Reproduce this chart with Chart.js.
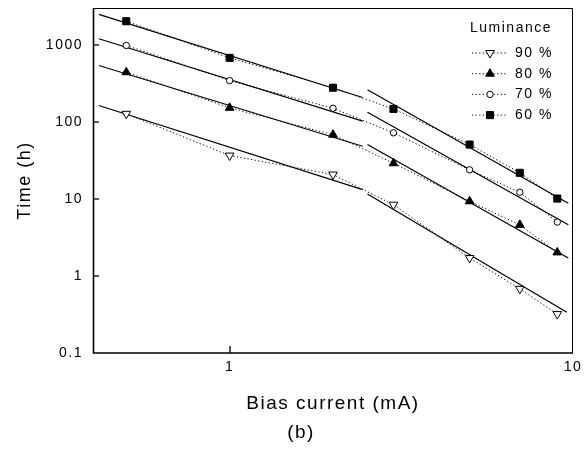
<!DOCTYPE html>
<html><head><meta charset="utf-8">
<script src="https://cdn.jsdelivr.net/npm/chart.js@4.4.1/dist/chart.umd.min.js"></script>
<style>html,body{margin:0;padding:0;background:#fff;}#wrap{width:585px;height:457px;position:relative;}</style>
</head><body><div id="wrap"><canvas id="c"></canvas></div>
<script>
// ---- data ----
const currents = [0.5, 1, 2, 3, 5, 7, 9];
const lum90 = [127, 36.5, 20.7, 8.4, 1.71, 0.68, 0.32];
const lum80 = [440, 152, 68, 29, 9.3, 4.6, 2.02];
const lum70 = [980, 343, 150, 72, 23.8, 12.2, 5.0];
const lum60 = [2020, 676, 277, 147, 50.7, 21.8, 10.1];
const seriesLabels = ['90 %', '80 %', '70 %', '60 %'];
const legendTitle = 'Luminance';
const xTickLabels = [1, 10];
const yTickLabels = [0.1, 1, 10, 100, 1000];
// fitted straight lines (two segments per series), endpoints
const fitLowX = [0.416, 2.44];
const fitHighX = [2.52, 9.69];
const fitHighX90 = [2.52, 9.59];
const fit90Low = [163, 13.2], fit90High = [11.6, 0.337];
const fit80Low = [538, 48.2], fit80High = [50.7, 1.71];
const fit70Low = [1197, 102], fit70High = [133, 4.63];
const fit60Low = [2480, 207], fit60High = [261, 8.77];

const FONT = '"Liberation Sans", Arial, Helvetica, sans-serif';
const pts = (xs, ys) => xs.map((x, i) => ({x: x, y: ys[i]}));

const markerStyles = [
  {pointStyle: 'triangle', rotation: 180, radius: 5, fill: '#fff'},
  {pointStyle: 'triangle', rotation: 0, radius: 5, fill: '#000'},
  {pointStyle: 'circle', rotation: 0, radius: 3.2, fill: '#fff'},
  {pointStyle: 'rect', rotation: 0, radius: 5, fill: '#000'}
];
const seriesValues = [lum90, lum80, lum70, lum60];

const datasets = [];
seriesValues.forEach((vals, i) => {
  const m = markerStyles[i];
  datasets.push({
    label: seriesLabels[i],
    data: pts(currents, vals),
    showLine: true,
    borderColor: '#000', borderWidth: 1, borderDash: [1.2, 2.4],
    pointStyle: m.pointStyle, pointRotation: m.rotation, pointRadius: m.radius,
    pointBackgroundColor: m.fill, pointBorderColor: '#000', pointBorderWidth: 1,
    order: 1
  });
});
const fits = [
  [fitLowX, fit90Low], [fitHighX90, fit90High],
  [fitLowX, fit80Low], [fitHighX, fit80High],
  [fitLowX, fit70Low], [fitHighX, fit70High],
  [fitLowX, fit60Low], [fitHighX, fit60High]
];
fits.forEach(([xs, ys]) => {
  datasets.push({
    label: 'fit', data: pts(xs, ys), showLine: true,
    borderColor: '#000', borderWidth: 1.2, pointRadius: 0, order: 2
  });
});

const isMajor = v => Math.abs(Math.log10(v) - Math.round(Math.log10(v))) < 1e-6;
const inList = (list, v) => list.some(t => Math.abs(t - v) < 1e-9 * Math.max(1, t));

const spacing = {
  id: 'spacing',
  beforeLayout(chart) { chart.ctx.letterSpacing = '1.5px'; },
  beforeDraw(chart) { chart.ctx.letterSpacing = '1.5px'; },
  afterLayout(chart) {
    const t = chart.titleBlock, a = chart.chartArea;
    if (t) {
      const w = t.right - t.left;
      const c = (a.left + a.right) / 2 - 32;
      t.left = c - w / 2; t.right = c + w / 2;
    }
  }
};

const frameTicks = {
  id: 'frameTicks',
  afterDraw(chart) {
    const {ctx, chartArea: a, scales: {x, y}} = chart;
    ctx.save();
    ctx.setLineDash([]);
    ctx.strokeStyle = '#000';
    ctx.lineWidth = 1.3;
    x.ticks.forEach(t => {
      const px = Math.round(x.getPixelForValue(t.value));
      if (px < a.left + 2 || px > a.right - 2) return;
      const len = isMajor(t.value) ? 7 : 3.5;
      ctx.beginPath(); ctx.moveTo(px, a.bottom); ctx.lineTo(px, a.bottom - len); ctx.stroke();
    });
    y.ticks.forEach(t => {
      const py = Math.round(y.getPixelForValue(t.value));
      if (py < a.top + 2 || py > a.bottom - 2) return;
      const len = isMajor(t.value) ? 6 : 3;
      ctx.beginPath(); ctx.moveTo(a.left, py); ctx.lineTo(a.left + len, py); ctx.stroke();
    });
    // frame
    ctx.lineWidth = 1;
    ctx.beginPath();
    ctx.moveTo(a.left, a.top + 0.5); ctx.lineTo(a.right - 0.5, a.top + 0.5); ctx.lineTo(a.right - 0.5, a.bottom);
    ctx.stroke();
    ctx.lineWidth = 1.6;
    ctx.beginPath();
    ctx.moveTo(a.left + 0.5, a.top); ctx.lineTo(a.left + 0.5, a.bottom); ctx.lineTo(a.right, a.bottom);
    ctx.stroke();

    // legend
    ctx.letterSpacing = '1.5px';
    ctx.fillStyle = '#000';
    ctx.font = '14px ' + FONT;
    ctx.textBaseline = 'middle';
    ctx.textAlign = 'left';
    ctx.fillText(legendTitle, a.right - 103, a.top + 20);
    for (let i = 0; i < 4; i++) {
      const ds = chart.data.datasets[i];
      const yy = a.top + 45 + i * 20.7;
      ctx.strokeStyle = '#000'; ctx.lineWidth = 1; ctx.setLineDash([1.2, 2.4]);
      ctx.beginPath(); ctx.moveTo(a.right - 101, yy); ctx.lineTo(a.right - 66, yy); ctx.stroke();
      ctx.setLineDash([]);
      ctx.fillStyle = ds.pointBackgroundColor; ctx.strokeStyle = '#000';
      Chart.helpers.drawPoint(ctx, {pointStyle: ds.pointStyle, rotation: ds.pointRotation, radius: ds.pointRadius, borderWidth: 1}, a.right - 83, yy);
      ctx.fillStyle = '#000';
      ctx.fillText(ds.label, a.right - 58, yy);
    }
    ctx.restore();
  }
};

new Chart(document.getElementById('c'), {
  type: 'scatter',
  data: {datasets: datasets},
  plugins: [spacing, frameTicks],
  options: {
    responsive: true, maintainAspectRatio: false, animation: false,
    layout: {padding: {left: 0, right: 12, top: 8, bottom: 0}},
    plugins: {
      legend: {display: false},
      tooltip: {enabled: false},
      title: {display: true, text: '(b)', position: 'bottom', color: '#000',
        font: {size: 19, family: FONT, weight: 'normal'}, padding: {top: 0, bottom: 13}}
    },
    scales: {
      x: {
        type: 'logarithmic', min: 0.4, max: 10,
        grid: {display: false, drawTicks: false}, border: {display: false},
        ticks: {autoSkip: false, maxRotation: 0, padding: 6, color: '#000',
          font: {size: 14, family: FONT},
          callback: v => inList(xTickLabels, v) ? String(v) : null},
        title: {display: true, text: 'Bias current (mA)', color: '#000',
          font: {size: 19, family: FONT}, padding: {top: 0, bottom: 6}},
        afterFit: s => { s.height = 68.2; s.paddingLeft = 0; s.paddingRight = 0; }
      },
      y: {
        type: 'logarithmic', min: 0.1, max: 3000,
        grid: {display: false, drawTicks: false}, border: {display: false},
        ticks: {autoSkip: false, padding: 10, color: '#000',
          font: {size: 14, family: FONT},
          callback: v => inList(yTickLabels, v) ? String(v) : null},
        title: {display: true, text: 'Time (h)', color: '#000',
          font: {size: 18, family: FONT}, padding: {top: 14, bottom: 0}},
        afterFit: s => { s.width = 93; s.paddingTop = 0; s.paddingBottom = 0; }
      }
    }
  }
});
</script>
</body></html>
